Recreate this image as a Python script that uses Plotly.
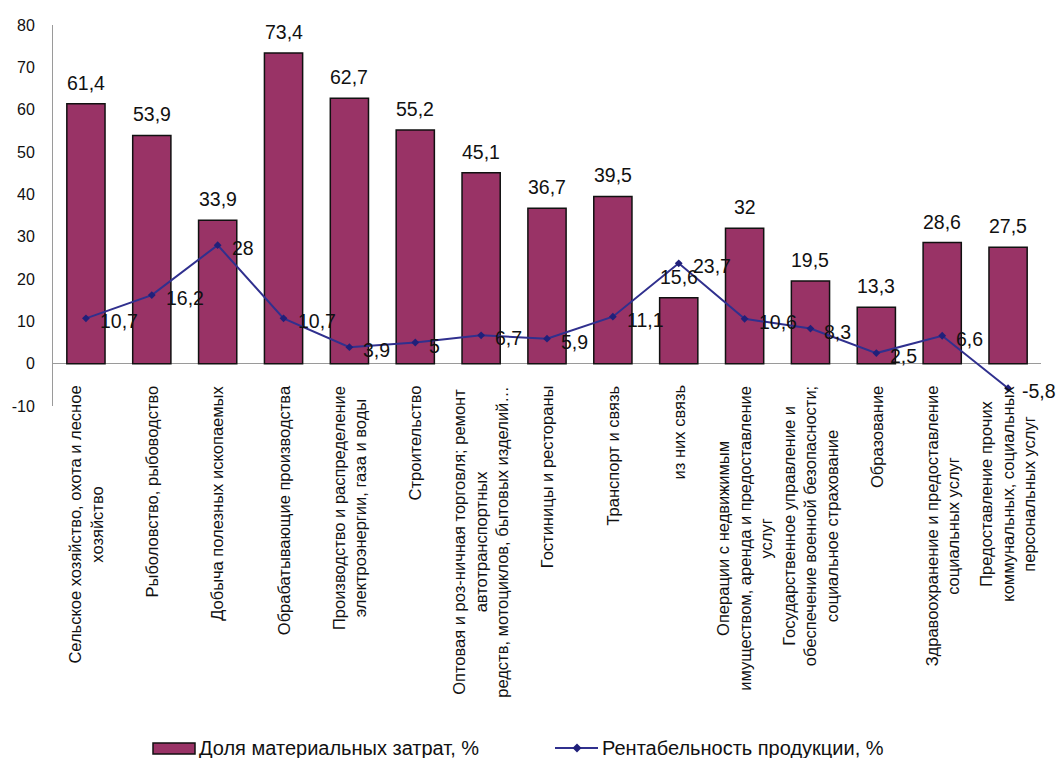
import plotly.graph_objects as go

# Sectors of the economy (multi-line names as shown under the axis)
categories = [
    "Сельское хозяйство, охота и лесное<br>хозяйство",
    "Рыболовство, рыбоводство",
    "Добыча полезных ископаемых",
    "Обрабатывающие производства",
    "Производство и распределение<br>электроэнергии, газа и воды",
    "Строительство",
    "Оптовая и роз-ничная торговля; ремонт<br>автотранспортных<br>редств, мотоциклов, бытовых изделий…",
    "Гостиницы и рестораны",
    "Транспорт и связь",
    "из них связь",
    "Операции с недвижимым<br>имуществом, аренда и предоставление<br>услуг",
    "Государственное управление и<br>обеспечение военной безопасности;<br>социальное страхование",
    "Образование",
    "Здравоохранение и предоставление<br>социальных услуг",
    "Предоставление прочих<br>коммунальных, социальных<br>персональных услуг",
]

# Share of material costs, %
material_share = [61.4, 53.9, 33.9, 73.4, 62.7, 55.2, 45.1, 36.7, 39.5, 15.6, 32, 19.5, 13.3, 28.6, 27.5]

# Profitability of products, %
profitability = [10.7, 16.2, 28, 10.7, 3.9, 5, 6.7, 5.9, 11.1, 23.7, 10.6, 8.3, 2.5, 6.6, -5.8]

y_ticks = [-10, 0, 10, 20, 30, 40, 50, 60, 70, 80]

bar_name = "Доля материальных затрат, %"
line_name = "Рентабельность продукции, %"

BAR_COLOR = "#993366"
LINE_COLOR = "#30308e"
MARKER_COLOR = "#20207a"
TEXT_COLOR = "#111111"
FONT = "Liberation Sans, Arial, sans-serif"


def fmt(v):
    return f"{v:g}".replace(".", ",")


fig = go.Figure()

fig.add_trace(go.Bar(
    x=categories,
    y=material_share,
    name=bar_name,
    width=0.58,
    marker=dict(color=BAR_COLOR, line=dict(color="#111111", width=1.5)),
    showlegend=False,
))

fig.add_trace(go.Scatter(
    x=categories,
    y=profitability,
    name=line_name,
    mode="lines+markers",
    line=dict(color=LINE_COLOR, width=2),
    marker=dict(symbol="diamond", size=6, color=MARKER_COLOR),
    showlegend=False,
))

annotations = []

# value labels above the bars
for i, v in enumerate(material_share):
    annotations.append(dict(
        x=i, y=v, xref="x", yref="y", text=fmt(v), showarrow=False,
        xanchor="center", yanchor="bottom", yshift=8,
        font=dict(family=FONT, size=19.5, color=TEXT_COLOR),
    ))

# value labels to the right of the line points
for i, v in enumerate(profitability):
    annotations.append(dict(
        x=i, y=v, xref="x", yref="y", text=fmt(v), showarrow=False,
        xanchor="left", yanchor="middle", xshift=12, yshift=-3,
        font=dict(family=FONT, size=19.5, color=TEXT_COLOR),
    ))

# rotated category names hanging under the zero line
for i, name in enumerate(categories):
    annotations.append(dict(
        x=i, y=0, xref="x", yref="y", text=name, showarrow=False,
        textangle=-90, align="center",
        xanchor="center", yanchor="top", yshift=-20,
        font=dict(family=FONT, size=16.5, color=TEXT_COLOR),
    ))

# plot area in pixels, used to place the legend below the chart
L, R, T, B = 53, 1041, 25, 406
PW, PH = R - L, B - T


def px(xp):
    return (xp - L) / PW


def py(yp):
    return (B - yp) / PH


legend_y = py(748)
annotations.append(dict(
    x=px(197), y=legend_y, xref="paper", yref="paper", text=bar_name,
    showarrow=False, xanchor="left", yanchor="middle",
    font=dict(family=FONT, size=20, color=TEXT_COLOR),
))
annotations.append(dict(
    x=px(600), y=legend_y, xref="paper", yref="paper", text=line_name,
    showarrow=False, xanchor="left", yanchor="middle",
    font=dict(family=FONT, size=20, color=TEXT_COLOR),
))

mx, dx, dy = px(577), 4.5 / PW, 4.5 / PH
shapes = [
    dict(type="rect", xref="paper", yref="paper",
         x0=px(153), x1=px(195), y0=py(754), y1=py(743),
         fillcolor=BAR_COLOR, line=dict(color="#111111", width=1.5)),
    dict(type="line", xref="paper", yref="paper",
         x0=px(555), x1=px(598), y0=legend_y, y1=legend_y,
         line=dict(color=LINE_COLOR, width=2)),
    dict(type="path", xref="paper", yref="paper",
         path=f"M {mx},{legend_y + dy} L {mx + dx},{legend_y} L {mx},{legend_y - dy} L {mx - dx},{legend_y} Z",
         fillcolor=MARKER_COLOR, line=dict(color=MARKER_COLOR, width=0)),
]

fig.update_layout(
    width=1060,
    height=758,
    margin=dict(l=L, r=1060 - R, t=T, b=758 - B, pad=0),
    paper_bgcolor="white",
    plot_bgcolor="white",
    font=dict(family=FONT, color=TEXT_COLOR),
    annotations=annotations,
    shapes=shapes,
    showlegend=False,
    bargap=0.42,
)

fig.update_xaxes(
    type="category",
    range=[-0.5, len(categories) - 0.5],
    visible=False,
)

fig.update_yaxes(
    range=[-10, 80],
    tickvals=y_ticks,
    ticktext=[str(t) for t in y_ticks],
    showgrid=False,
    showline=True,
    linecolor="#9a9a9a",
    linewidth=1,
    zeroline=True,
    zerolinecolor="#9a9a9a",
    zerolinewidth=1,
    ticks="",
    ticklabelstandoff=14,
    tickfont=dict(family=FONT, size=16, color=TEXT_COLOR),
)

fig.write_html("out.html")
